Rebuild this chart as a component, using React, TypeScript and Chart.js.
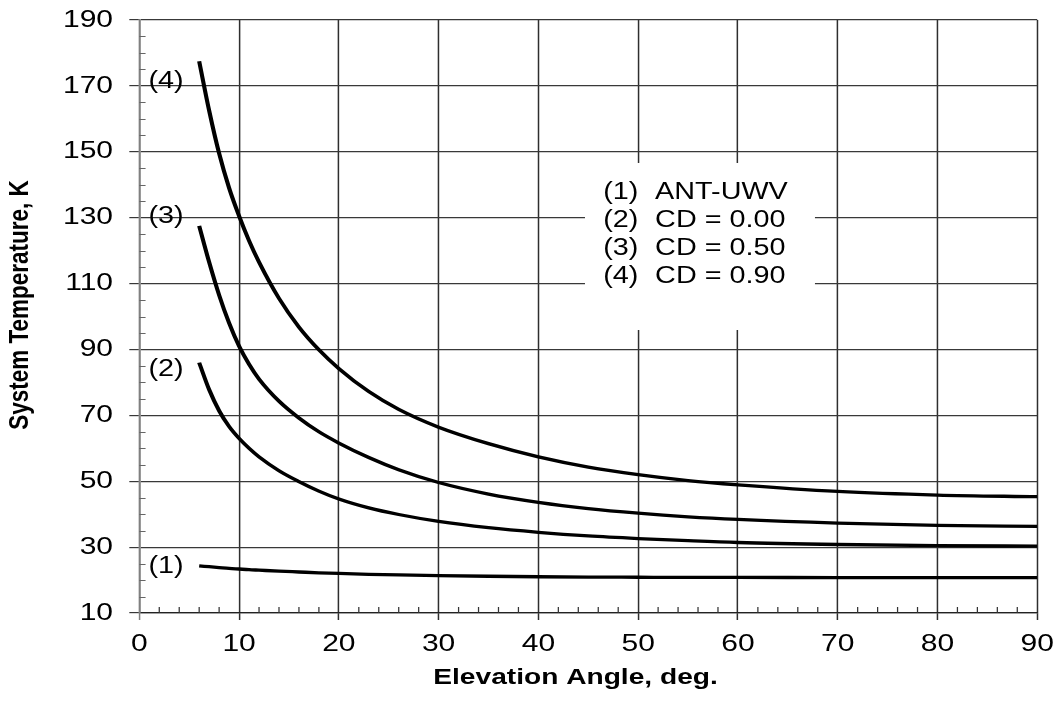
import React, { useEffect, useRef } from "react";
import { Chart, registerables } from "chart.js";

Chart.register(...registerables);

// ---- data ----
const elevationAngles = [6, 7, 8, 9, 10, 11, 12, 14, 16, 18, 20, 23, 26, 30, 35, 40, 45, 50, 55, 60, 70, 80, 90];
const antUwv = [24.3, 24.05, 23.8, 23.55, 23.35, 23.15, 23.0, 22.7, 22.45, 22.2, 22.0, 21.75, 21.55, 21.35, 21.15, 21.0, 20.9, 20.85, 20.8, 20.8, 20.75, 20.75, 20.75];
const cd000 = [86, 77.8, 71.4, 66.6, 63.0, 60.0, 57.4, 53.2, 49.9, 47.0, 44.6, 41.9, 39.9, 37.8, 35.9, 34.5, 33.4, 32.6, 31.95, 31.4, 30.8, 30.45, 30.3];
const cd050 = [127.5, 116.5, 106.5, 98, 91, 85.5, 81, 74.3, 69.2, 65.0, 61.6, 57.2, 53.5, 49.6, 46.1, 43.6, 41.7, 40.3, 39.2, 38.4, 37.3, 36.6, 36.3];
const cd090 = [177.5, 162.5, 149.5, 139, 130.5, 123, 116.5, 105.5, 96.8, 89.9, 84.2, 77.2, 71.8, 66.4, 61.4, 57.4, 54.3, 52.0, 50.2, 48.9, 46.9, 45.8, 45.3];

const curveTags = ["(1)", "(2)", "(3)", "(4)"];
const legendNames = ["ANT-UWV", "CD = 0.00", "CD = 0.50", "CD = 0.90"];
const xTickStep = 10;
const yTickStep = 20;
const xTitle = "Elevation Angle, deg.";
const yTitle = "System Temperature, K";

// ---- layout ----
const CSS_W = 1058;
const CSS_H = 713;
const INNER_W = 846;
const SX = CSS_W / INNER_W;
const FONT = "'Liberation Sans', Arial, Helvetica, sans-serif";

const seriesList = [antUwv, cd000, cd050, cd090];

const decorPlugin = {
  id: "decor",
  beforeDatasetsDraw(chart: any) {
    const { ctx, chartArea, scales } = chart;
    const x = scales.x;
    const y = scales.y;
    ctx.save();
    // minor y ticks (every 5)
    ctx.strokeStyle = "#666";
    ctx.lineWidth = 1;
    for (let v = 15; v < 190; v += 5) {
      if ((v - 10) % 20 === 0) continue;
      const py = Math.round(y.getPixelForValue(v)) + 0.5;
      ctx.beginPath();
      ctx.moveTo(chartArea.left, py);
      ctx.lineTo(chartArea.left + 5, py);
      ctx.stroke();
    }
    // minor x ticks (every 2)
    ctx.strokeStyle = "#333";
    for (let v = 2; v < 90; v += 2) {
      if (v % 10 === 0) continue;
      const px = x.getPixelForValue(v);
      ctx.beginPath();
      ctx.moveTo(px, chartArea.bottom);
      ctx.lineTo(px, chartArea.bottom - 6);
      ctx.stroke();
    }
    // legend background box
    const bx1 = x.getPixelForValue(44.67);
    const bx2 = x.getPixelForValue(67.72);
    const by1 = y.getPixelForValue(146.6);
    const by2 = y.getPixelForValue(95.9);
    ctx.fillStyle = "#ffffff";
    ctx.fillRect(bx1, by1, bx2 - bx1, by2 - by1);
    ctx.restore();
  },
  afterDatasetsDraw(chart: any) {
    const { ctx, scales, chartArea } = chart;
    const x = scales.x;
    const y = scales.y;
    ctx.save();
    ctx.fillStyle = "#000";
    ctx.textBaseline = "middle";
    // legend text
    ctx.font = `23px ${FONT}`;
    const rowValues = [137.64, 129.14, 120.64, 112.14];
    legendNames.forEach((name, i) => {
      const py = y.getPixelForValue(rowValues[i]);
      ctx.textAlign = "left";
      ctx.fillText(curveTags[i], x.getPixelForValue(46.5), py);
      ctx.fillText(name, x.getPixelForValue(51.7), py);
    });
    // curve tags at left
    const tagValues = [24.1, 83.8, 130.3, 171.3];
    ctx.textAlign = "center";
    curveTags.forEach((tag, i) => {
      ctx.fillText(tag, x.getPixelForValue(2.67), y.getPixelForValue(tagValues[i]));
    });
    // axis titles
    ctx.font = `bold 22.5px ${FONT}`;
    ctx.textAlign = "center";
    ctx.fillText(xTitle, (chartArea.left + chartArea.right) / 2 - 10.2, 678);
    ctx.translate(16.3, 305);
    ctx.rotate(-Math.PI / 2);
    ctx.fillText(yTitle, 0, 0);
    ctx.restore();
  },
};

const zeroPadding = (s: any) => {
  s.paddingTop = 0;
  s.paddingBottom = 0;
  s.paddingLeft = 0;
  s.paddingRight = 0;
};

export default function App() {
  const canvasRef = useRef<HTMLCanvasElement | null>(null);

  useEffect(() => {
    const canvas = canvasRef.current;
    if (!canvas) return;
    const datasets = seriesList.map((vals, i) => ({
      label: legendNames[i],
      data: elevationAngles.map((a, k) => ({ x: a, y: vals[k] })),
      borderColor: "#000",
      backgroundColor: "#000",
      borderWidth: 3.3,
      pointRadius: 0,
      fill: false,
      cubicInterpolationMode: "monotone" as const,
    }));
    const gridColor = (c: any) => (c.tick && c.tick.value === 0 ? "#808080" : "#2e2e2e");
    const chart = new Chart(canvas, {
      type: "line",
      data: { datasets },
      options: {
        responsive: false,
        animation: false,
        devicePixelRatio: 1,
        layout: { padding: { left: 0, top: 20, right: 16.6, bottom: 0 } },
        plugins: { legend: { display: false }, tooltip: { enabled: false } },
        scales: {
          x: {
            type: "linear",
            min: 0,
            max: 90,
            ticks: { stepSize: xTickStep, color: "#000", font: { family: FONT, size: 24 }, padding: 10, maxRotation: 0 },
            grid: { color: gridColor, lineWidth: 1.2, tickLength: 7 },
            border: { color: "#222", width: 1.2 },
            title: { display: false, text: xTitle },
            afterFit: (s: any) => {
              s.height = 100;
              zeroPadding(s);
            },
          },
          y: {
            type: "linear",
            min: 10,
            max: 190,
            ticks: { stepSize: yTickStep, color: "#000", font: { family: FONT, size: 24 }, padding: 13 },
            grid: { color: "#383838", lineWidth: 1.2, tickLength: 8 },
            border: { color: "#808080", width: 1.5 },
            title: { display: false, text: yTitle },
            afterFit: (s: any) => {
              s.width = 111.4;
              zeroPadding(s);
            },
          },
        },
      },
      plugins: [decorPlugin],
    } as any);

    // horizontal stretch of the whole drawing, as in the reference
    canvas.width = CSS_W;
    canvas.height = CSS_H;
    const ctx = canvas.getContext("2d");
    if (ctx) {
      ctx.setTransform(SX, 0, 0, 1, 0, 0);
      chart.draw();
    }
    return () => {
      chart.destroy();
    };
  }, []);

  return (
    <div style={{ position: "fixed", left: 0, top: 0, width: CSS_W, height: CSS_H, background: "#fff" }}>
      <canvas
        ref={canvasRef}
        width={INNER_W}
        height={CSS_H}
        style={{ width: `${CSS_W}px`, height: `${CSS_H}px`, display: "block" }}
      />
    </div>
  );
}
